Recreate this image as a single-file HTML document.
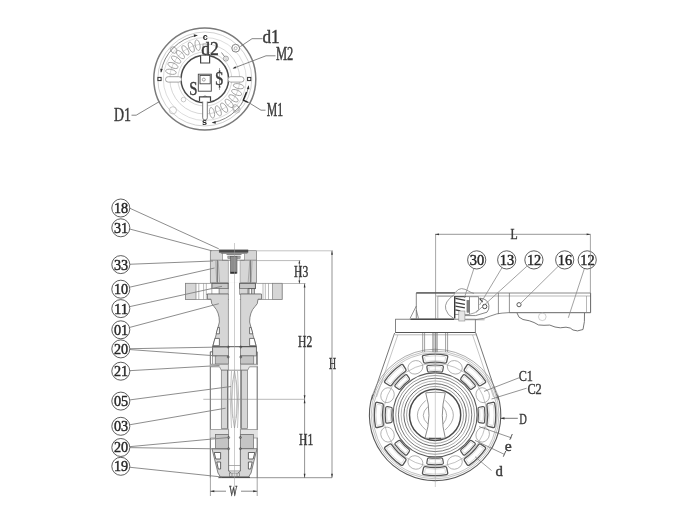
<!DOCTYPE html>
<html><head><meta charset="utf-8"><title>Valve drawing</title>
<style>
html,body{margin:0;padding:0;background:#fff;}
body{width:690px;height:518px;overflow:hidden;}
svg{display:block;font-family:"Liberation Serif",serif;filter:blur(0.55px);}
</style></head><body>
<svg width="690" height="518" viewBox="0 0 690 518">
<rect width="690" height="518" fill="#fff"/>
<circle cx="204.8" cy="79" r="51" stroke="#7a7a7a" stroke-width="1.5" fill="none"/>
<circle cx="204.8" cy="79" r="47" stroke="#bdbdbd" stroke-width="0.7" fill="none"/>
<circle cx="204.8" cy="79" r="41.5" stroke="#cfcfcf" stroke-width="0.7" fill="none"/>
<circle cx="204.8" cy="79" r="35" stroke="#c4c4c4" stroke-width="0.7" fill="none"/>
<circle cx="204.8" cy="79" r="27" stroke="#c8c8c8" stroke-width="0.7" fill="none"/>
<circle cx="204.8" cy="79" r="23.8" stroke="#4a4a4a" stroke-width="1.5" fill="none"/>
<ellipse cx="197.61" cy="45.16" rx="5.4" ry="2.4" transform="rotate(-102 197.61 45.16)" fill="none" stroke="#9c9c9c" stroke-width="0.85"/>
<ellipse cx="191.28" cy="47.15" rx="5.4" ry="2.4" transform="rotate(-113 191.28 47.15)" fill="none" stroke="#9c9c9c" stroke-width="0.85"/>
<ellipse cx="185.45" cy="50.32" rx="5.4" ry="2.4" transform="rotate(-124 185.45 50.32)" fill="none" stroke="#9c9c9c" stroke-width="0.85"/>
<ellipse cx="180.33" cy="54.53" rx="5.4" ry="2.4" transform="rotate(-135 180.33 54.53)" fill="none" stroke="#9c9c9c" stroke-width="0.85"/>
<ellipse cx="176.12" cy="59.65" rx="5.4" ry="2.4" transform="rotate(-146 176.12 59.65)" fill="none" stroke="#9c9c9c" stroke-width="0.85"/>
<ellipse cx="172.95" cy="65.48" rx="5.4" ry="2.4" transform="rotate(-157 172.95 65.48)" fill="none" stroke="#9c9c9c" stroke-width="0.85"/>
<ellipse cx="170.96" cy="71.81" rx="5.4" ry="2.4" transform="rotate(-168 170.96 71.81)" fill="none" stroke="#9c9c9c" stroke-width="0.85"/>
<ellipse cx="211.99" cy="112.84" rx="5.4" ry="2.4" transform="rotate(78 211.99 112.84)" fill="none" stroke="#9c9c9c" stroke-width="0.85"/>
<ellipse cx="218.32" cy="110.85" rx="5.4" ry="2.4" transform="rotate(67 218.32 110.85)" fill="none" stroke="#9c9c9c" stroke-width="0.85"/>
<ellipse cx="224.15" cy="107.68" rx="5.4" ry="2.4" transform="rotate(56 224.15 107.68)" fill="none" stroke="#9c9c9c" stroke-width="0.85"/>
<ellipse cx="229.27" cy="103.47" rx="5.4" ry="2.4" transform="rotate(45 229.27 103.47)" fill="none" stroke="#9c9c9c" stroke-width="0.85"/>
<ellipse cx="233.48" cy="98.35" rx="5.4" ry="2.4" transform="rotate(34 233.48 98.35)" fill="none" stroke="#9c9c9c" stroke-width="0.85"/>
<ellipse cx="236.65" cy="92.52" rx="5.4" ry="2.4" transform="rotate(23 236.65 92.52)" fill="none" stroke="#9c9c9c" stroke-width="0.85"/>
<ellipse cx="238.64" cy="86.19" rx="5.4" ry="2.4" transform="rotate(12 238.64 86.19)" fill="none" stroke="#9c9c9c" stroke-width="0.85"/>
<ellipse cx="173.72" cy="50.02" rx="3.6" ry="2.8" transform="rotate(-137 173.72 50.02)" fill="none" stroke="#9a9a9a" stroke-width="0.8"/>
<ellipse cx="235.88" cy="107.98" rx="3.6" ry="2.8" transform="rotate(43 235.88 107.98)" fill="none" stroke="#9a9a9a" stroke-width="0.8"/>
<path d="M161.05 72.07 A44.3 44.3 0 0 1 197.11 35.37" stroke="#666" stroke-width="0.8" fill="none" />
<path d="M248.55 85.93 A44.3 44.3 0 0 1 212.49 122.63" stroke="#666" stroke-width="0.8" fill="none" />
<polygon points="197.87,35.25 194,36.89 193.77,34.3" fill="#333"/>
<polygon points="160.93,72.83 160.2,68.69 162.78,69.05" fill="#333"/>
<polygon points="211.73,122.75 215.6,121.11 215.83,123.7" fill="#333"/>
<polygon points="248.67,85.17 249.4,89.31 246.82,88.95" fill="#333"/>
<rect x="228" y="76.7" width="16" height="5.4" fill="#fff" stroke="#8e8e8e" stroke-width="0.8" rx="2.7"/>
<rect x="165.5" y="76.7" width="16" height="5.4" fill="#fff" stroke="#8e8e8e" stroke-width="0.8" rx="2.7"/>
<rect x="202.7" y="96" width="4.6" height="24" fill="#fff" stroke="#6a6a6a" stroke-width="0.9" rx="2.2"/>
<path d="M200.6 55.6 L200.6 63 L209.6 63 L209.6 55.6" stroke="#444" stroke-width="1.2" fill="#fff" />
<rect x="203" y="44" width="4" height="11" fill="#fff" stroke="#8a8a8a" stroke-width="0.7" rx="0"/>
<path d="M199.5 101.5 L199.5 96.8 L210.5 96.8 L210.5 101.5" stroke="#444" stroke-width="1.2" fill="#fff" />
<rect x="157.9" y="77.4" width="3.2" height="3.2" fill="none" stroke="#333" stroke-width="1.0" rx="0"/>
<rect x="247.6" y="77.4" width="3.2" height="3.2" fill="none" stroke="#333" stroke-width="1.0" rx="0"/>
<rect x="198.3" y="74.2" width="13" height="17" fill="none" stroke="#444" stroke-width="0.9" rx="0"/>
<rect x="200" y="75.4" width="10.2" height="8.4" fill="none" stroke="#444" stroke-width="0.9" rx="0"/>
<circle cx="203.8" cy="79.6" r="1.5" stroke="#666" stroke-width="0.6" fill="none"/>
<line x1="219.5" y1="68" x2="219.5" y2="90" stroke="#666" stroke-width="0.6" />
<polygon points="219.6,73.5 218.6,70.5 220.6,70.5" fill="#333"/>
<polygon points="219.6,84.5 220.6,87.5 218.6,87.5" fill="#333"/>
<circle cx="235.7" cy="48.2" r="3.9" stroke="#777" stroke-width="0.9" fill="none"/>
<circle cx="235.7" cy="48.2" r="1.5" stroke="#999" stroke-width="0.7" fill="none"/>
<circle cx="225.9" cy="58.6" r="2.5" stroke="#888" stroke-width="0.8" fill="none"/>
<circle cx="225.9" cy="58.6" r="1" stroke="#aaa" stroke-width="0.6" fill="none"/>
<circle cx="236.6" cy="109.5" r="3.6" stroke="#bbb" stroke-width="0.8" fill="none"/>
<circle cx="172.9" cy="110.3" r="3.6" stroke="#bbb" stroke-width="0.8" fill="none"/>
<circle cx="183.5" cy="99.6" r="2.3" stroke="#bbb" stroke-width="0.8" fill="none"/>
<path d="M246.5 92 L243.2 100.2 L248 102.4" stroke="#222" stroke-width="1.3" fill="none" />
<text x="205.2" y="39.6" font-size="9" text-anchor="middle" fill="#222" font-weight="bold" font-family="Liberation Sans">c</text>
<text x="204.6" y="125" font-size="9" text-anchor="middle" fill="#222" font-weight="bold" font-family="Liberation Sans">s</text>
<path d="M262.5 38.7 L252 38.7 L240.3 46.6" stroke="#777" stroke-width="0.9" fill="none" />
<path d="M275.5 55.8 L266 55.8 L233.5 68.2" stroke="#777" stroke-width="0.9" fill="none" />
<polygon points="232.6,68.5 235.47,66.22 236.26,68.27" fill="#333"/>
<path d="M265.5 110.2 L261 110.2 L247 101.5" stroke="#777" stroke-width="0.9" fill="none" />
<path d="M221.5 52.5 L224.3 56.3" stroke="#555" stroke-width="0.7" fill="none" />
<path d="M131.5 115.2 L136.2 115.2 L159.5 101.5" stroke="#777" stroke-width="0.9" fill="none" />
<text x="262.5" y="42.8" font-size="18" textLength="17.2" lengthAdjust="spacingAndGlyphs" fill="#3a3a3a"  stroke="#3a3a3a" stroke-width="0.4">d1</text>
<text x="275.9" y="60" font-size="18" textLength="17.4" lengthAdjust="spacingAndGlyphs" fill="#3a3a3a"  stroke="#3a3a3a" stroke-width="0.4">M2</text>
<text x="266.7" y="116.3" font-size="18" textLength="16.4" lengthAdjust="spacingAndGlyphs" fill="#3a3a3a"  stroke="#3a3a3a" stroke-width="0.4">M1</text>
<text x="113.9" y="121" font-size="18" textLength="17" lengthAdjust="spacingAndGlyphs" fill="#3a3a3a"  stroke="#3a3a3a" stroke-width="0.4">D1</text>
<text x="201.2" y="54.6" font-size="18" textLength="17.6" lengthAdjust="spacingAndGlyphs" fill="#3a3a3a"  stroke="#3a3a3a" stroke-width="0.4">d2</text>
<text x="215" y="85.2" font-size="18" textLength="8.6" lengthAdjust="spacingAndGlyphs" fill="#3a3a3a"  stroke="#3a3a3a" stroke-width="0.4">S</text>
<text x="189.2" y="94.6" font-size="18" textLength="8.2" lengthAdjust="spacingAndGlyphs" fill="#3a3a3a"  stroke="#3a3a3a" stroke-width="0.4">S</text>
<rect x="210.3" y="250.7" width="46.3" height="32.2" fill="#d6d6d6" stroke="#777" stroke-width="0.7" rx="0"/>
<rect x="219.2" y="249.9" width="28.8" height="2.4" fill="#4a4a4a" stroke="#4a4a4a" stroke-width="0.5" rx="0"/>
<line x1="220.8" y1="253.1" x2="247.4" y2="253.1" stroke="#666" stroke-width="0.9" />
<rect x="222.6" y="253.6" width="22" height="6.6" fill="#fff" stroke="#777" stroke-width="0.6" rx="0"/>
<rect x="228.4" y="260.2" width="11.9" height="120" fill="#fff" stroke="none" stroke-width="0" rx="0"/>
<line x1="217.4" y1="260.2" x2="217.4" y2="282.6" stroke="#5a5a5a" stroke-width="0.8" />
<line x1="250.4" y1="260.2" x2="250.4" y2="282.6" stroke="#5a5a5a" stroke-width="0.8" />
<line x1="210.3" y1="260.2" x2="256.6" y2="260.2" stroke="#707070" stroke-width="0.7" />
<path d="M215.8 261 L216.6 282 M218.2 261 L219.6 282 M252 261 L251.2 282 M249.8 261 L248.2 282" stroke="#8a8a8a" stroke-width="0.6" fill="none" />
<line x1="228.4" y1="260.2" x2="228.4" y2="283" stroke="#8a8a8a" stroke-width="0.6" />
<line x1="240.2" y1="260.2" x2="240.2" y2="283" stroke="#8a8a8a" stroke-width="0.6" />
<rect x="227.8" y="256" width="12.4" height="2.6" fill="#a4a4a4" stroke="#777" stroke-width="0.5" rx="0"/>
<rect x="230.4" y="256.6" width="6.6" height="16.6" fill="#8e8e8e" stroke="#5a5a5a" stroke-width="0.6" rx="0"/>
<rect x="230.8" y="272" width="5.8" height="1.4" fill="#333" stroke="#333" stroke-width="0.3" rx="0"/>
<line x1="226.5" y1="254.4" x2="241.5" y2="254.4" stroke="#666" stroke-width="0.9" />
<rect x="185.6" y="283.3" width="96.5" height="16.3" fill="#fff" stroke="#808080" stroke-width="0.7" rx="0"/>
<rect x="185.6" y="283.3" width="10.4" height="16.3" fill="#d6d6d6" stroke="#808080" stroke-width="0.7" rx="0"/>
<rect x="272.5" y="283.3" width="9.6" height="16.3" fill="#d6d6d6" stroke="#808080" stroke-width="0.7" rx="0"/>
<line x1="198.8" y1="283.3" x2="198.8" y2="299.6" stroke="#8a8a8a" stroke-width="0.6" />
<line x1="203.6" y1="283.3" x2="203.6" y2="299.6" stroke="#8a8a8a" stroke-width="0.6" />
<line x1="206.3" y1="283.3" x2="206.3" y2="299.6" stroke="#8a8a8a" stroke-width="0.6" />
<line x1="263" y1="283.3" x2="263" y2="299.6" stroke="#8a8a8a" stroke-width="0.6" />
<line x1="265.3" y1="283.3" x2="265.3" y2="299.6" stroke="#8a8a8a" stroke-width="0.6" />
<line x1="268.5" y1="283.3" x2="268.5" y2="299.6" stroke="#8a8a8a" stroke-width="0.6" />
<rect x="228.9" y="282.8" width="10.9" height="17.4" fill="#fff" stroke="none" stroke-width="0" rx="0"/>
<rect x="211.9" y="283.3" width="16.3" height="5.3" fill="#c8c8c8" stroke="#555" stroke-width="0.9" rx="0"/>
<rect x="239.6" y="283.3" width="15.8" height="5.3" fill="#c8c8c8" stroke="#555" stroke-width="0.9" rx="0"/>
<rect x="219" y="288.6" width="9.2" height="5.6" fill="#d6d6d6" stroke="#777" stroke-width="0.6" rx="0"/>
<rect x="211.9" y="288.6" width="7.1" height="5.6" fill="#fff" stroke="#777" stroke-width="0.6" rx="0"/>
<rect x="239.6" y="288.6" width="8.2" height="5.6" fill="#d6d6d6" stroke="#777" stroke-width="0.6" rx="0"/>
<line x1="248.9" y1="288.6" x2="248.9" y2="294.2" stroke="#4a4a4a" stroke-width="0.9" />
<line x1="251.8" y1="288.6" x2="251.8" y2="294.2" stroke="#4a4a4a" stroke-width="0.9" />
<line x1="254.2" y1="288.6" x2="254.2" y2="294.2" stroke="#4a4a4a" stroke-width="0.9" />
<line x1="206.3" y1="294.3" x2="228.4" y2="294.3" stroke="#5a5a5a" stroke-width="0.8" />
<line x1="240.2" y1="294.3" x2="260.6" y2="294.3" stroke="#5a5a5a" stroke-width="0.8" />
<path d="M207.5 294 L228.4 294 L228.4 346.7 L212.6 346.7 L215.5 337 L219.4 322 Q219.4 312 214 306.5 Q211 304.5 211 299.2 L207.5 299.2 Z" stroke="none" stroke-width="0" fill="#d6d6d6" />
<path d="M228.4 294 L207.5 294 L207.5 299.2 L211 299.2 Q211 304.5 214 306.5 Q219.4 312 219.4 322 L215.5 337 L212.6 346.7" stroke="#6a6a6a" stroke-width="0.8" fill="none" />
<path d="M261.5 294 L240.6 294 L240.6 346.7 L256.4 346.7 L253.5 337 L249.6 322 Q249.6 312 255 306.5 Q258 304.5 258 299.2 L261.5 299.2 Z" stroke="none" stroke-width="0" fill="#d6d6d6" />
<path d="M240.6 294 L261.5 294 L261.5 299.2 L258 299.2 Q258 304.5 255 306.5 Q249.6 312 249.6 322 L253.5 337 L256.4 346.7" stroke="#6a6a6a" stroke-width="0.8" fill="none" />
<line x1="228.4" y1="294" x2="228.4" y2="347" stroke="#777" stroke-width="0.7" />
<line x1="240.6" y1="294" x2="240.6" y2="347" stroke="#777" stroke-width="0.7" />
<path d="M219.4 327.4 L217.9 327.4 L216.2 333.8 L219.4 333.8 Z M219.4 338.4 L214.9 338.4 L213 345.7 L219.4 345.7 Z" stroke="#555" stroke-width="0.8" fill="#fff" />
<path d="M249.6 327.4 L251.1 327.4 L252.8 333.8 L249.6 333.8 Z M249.6 338.4 L254.1 338.4 L256 345.7 L249.6 345.7 Z" stroke="#555" stroke-width="0.8" fill="#fff" />
<rect x="212.6" y="346.7" width="15.8" height="9.2" fill="#d6d6d6" stroke="#666" stroke-width="0.7" rx="0"/>
<rect x="240.6" y="346.7" width="15.8" height="9.2" fill="#d6d6d6" stroke="#666" stroke-width="0.7" rx="0"/>
<rect x="215.2" y="355.9" width="13.2" height="8.2" fill="#c4c4c4" stroke="#6a6a6a" stroke-width="0.7" rx="0"/>
<rect x="240.6" y="355.9" width="13.2" height="8.2" fill="#c4c4c4" stroke="#6a6a6a" stroke-width="0.7" rx="0"/>
<line x1="212.6" y1="346.7" x2="256.4" y2="346.7" stroke="#444" stroke-width="0.9" />
<path d="M212.6 351.8 L210.3 351.8 L210.3 477.7 M256.4 351.8 L257.2 351.8 L257.2 477.7" stroke="#555" stroke-width="0.9" fill="none" />
<path d="M212.6 346.7 L212.6 364.3 M256.4 346.7 L256.4 364.3" stroke="#666" stroke-width="0.7" fill="none" />
<path d="M210.3 364.3 L228.4 364.3 L228.4 370.2 L221.3 370.2 L219.5 366.8 L210.3 366.8" stroke="#777" stroke-width="0.7" fill="#e2e2e2" />
<path d="M258 364.3 L240.6 364.3 L240.6 370.2 L247.7 370.2 L249.5 366.8 L258 366.8" stroke="#777" stroke-width="0.7" fill="#e2e2e2" />
<line x1="228.4" y1="370.2" x2="240.6" y2="370.2" stroke="#666" stroke-width="0.7" />
<circle cx="228.2" cy="347" r="1" stroke="#444" stroke-width="0.7" fill="none"/>
<circle cx="240.8" cy="347" r="1" stroke="#444" stroke-width="0.7" fill="none"/>
<circle cx="228.2" cy="357" r="1" stroke="#444" stroke-width="0.7" fill="none"/>
<circle cx="240.8" cy="357" r="1" stroke="#444" stroke-width="0.7" fill="none"/>
<rect x="221.3" y="370.2" width="6.5" height="58.3" fill="#d6d6d6" stroke="#777" stroke-width="0.7" rx="0"/>
<rect x="241" y="370.2" width="6.5" height="58.3" fill="#d6d6d6" stroke="#777" stroke-width="0.7" rx="0"/>
<line x1="227.8" y1="370.2" x2="227.8" y2="428.5" stroke="#5a5a5a" stroke-width="0.9" />
<line x1="241" y1="370.2" x2="241" y2="428.5" stroke="#5a5a5a" stroke-width="0.9" />
<path d="M234.5 371 Q228.5 399 234.5 428 Q240.5 399 234.5 371" stroke="#888" stroke-width="0.6" fill="none" />
<path d="M231.5 371 Q229 399 231.5 428 M237.5 371 Q240 399 237.5 428" stroke="#999" stroke-width="0.6" fill="none" />
<path d="M233 380 Q231.5 399 233 418 M236 380 Q237.5 399 236 418" stroke="#aaa" stroke-width="0.5" fill="none" />
<line x1="203.3" y1="399.3" x2="304.7" y2="399.3" stroke="#8a8a8a" stroke-width="0.6" />
<path d="M210.3 429.5 L228.6 429.5 L228.6 434.5 L215.5 434.5 L215.5 438 L210.3 438" stroke="#888" stroke-width="0.7" fill="#e2e2e2" />
<path d="M258 429.5 L240.4 429.5 L240.4 434.5 L252 434.5 L252 438 L258 438" stroke="#888" stroke-width="0.7" fill="#e2e2e2" />
<rect x="228.6" y="428.5" width="11.8" height="44" fill="#fff" stroke="none" stroke-width="0" rx="0"/>
<rect x="215.5" y="434.5" width="13.1" height="14.2" fill="#c4c4c4" stroke="#6a6a6a" stroke-width="0.7" rx="0"/>
<rect x="240.4" y="434.5" width="13.1" height="14.2" fill="#c4c4c4" stroke="#6a6a6a" stroke-width="0.7" rx="0"/>
<path d="M212 448.7 L228.6 448.7 L228.6 471 L231 473 L231 477 L220.5 477 L218 473 Z" stroke="#666" stroke-width="0.8" fill="#d6d6d6" />
<path d="M257 448.7 L240.4 448.7 L240.4 471 L238 473 L238 477 L248.5 477 L251 473 Z" stroke="#666" stroke-width="0.8" fill="#d6d6d6" />
<path d="M214.2 452.5 L220.6 452.5 L220.6 459 L215.8 459 Z M216.8 462 L220.6 462 L220.6 469 L218.3 469 Z" stroke="#444" stroke-width="0.8" fill="#fff" />
<path d="M254.8 452.5 L248.4 452.5 L248.4 459 L253.2 459 Z M252.2 462 L248.4 462 L248.4 469 L250.7 469 Z" stroke="#444" stroke-width="0.8" fill="#fff" />
<line x1="228.6" y1="428.5" x2="228.6" y2="471" stroke="#777" stroke-width="0.7" />
<line x1="240.4" y1="428.5" x2="240.4" y2="471" stroke="#777" stroke-width="0.7" />
<circle cx="228.6" cy="437.5" r="1" stroke="#444" stroke-width="0.7" fill="none"/>
<circle cx="240.4" cy="437.5" r="1" stroke="#444" stroke-width="0.7" fill="none"/>
<circle cx="228.6" cy="448.7" r="1" stroke="#444" stroke-width="0.7" fill="none"/>
<circle cx="240.4" cy="448.7" r="1" stroke="#444" stroke-width="0.7" fill="none"/>
<line x1="228.6" y1="465.5" x2="240.4" y2="465.5" stroke="#777" stroke-width="0.6" />
<line x1="228.6" y1="471" x2="240.4" y2="471" stroke="#666" stroke-width="0.7" />
<rect x="229.5" y="473" width="10" height="3.5" fill="#ddd" stroke="#666" stroke-width="0.6" rx="0"/>
<line x1="232" y1="473" x2="232" y2="476.5" stroke="#666" stroke-width="0.6" />
<line x1="237" y1="473" x2="237" y2="476.5" stroke="#666" stroke-width="0.6" />
<line x1="218" y1="477.7" x2="332" y2="477.7" stroke="#666" stroke-width="0.7" />
<line x1="219" y1="477.3" x2="250" y2="477.3" stroke="#444" stroke-width="1.1" />
<line x1="234.5" y1="243" x2="234.5" y2="496" stroke="#9a9a9a" stroke-width="0.5" />
<line x1="210.4" y1="477.7" x2="210.4" y2="496" stroke="#666" stroke-width="0.6" />
<line x1="257.2" y1="477.7" x2="257.2" y2="496" stroke="#666" stroke-width="0.6" />
<line x1="210.3" y1="491.2" x2="226" y2="491.2" stroke="#555" stroke-width="0.7" />
<line x1="241" y1="491.2" x2="257.2" y2="491.2" stroke="#555" stroke-width="0.7" />
<polygon points="210.3,491.2 214.3,490.2 214.3,492.2" fill="#333"/>
<polygon points="257.2,491.2 253.2,492.2 253.2,490.2" fill="#333"/>
<text x="229.3" y="496" font-size="15" textLength="8" lengthAdjust="spacingAndGlyphs" fill="#3a3a3a"  stroke="#3a3a3a" stroke-width="0.4">W</text>
<line x1="256.6" y1="250.8" x2="333" y2="250.8" stroke="#9a9a9a" stroke-width="0.6" />
<line x1="256.6" y1="260.6" x2="300.5" y2="260.6" stroke="#8a8a8a" stroke-width="0.6" />
<line x1="282.3" y1="283.5" x2="305.5" y2="283.5" stroke="#8a8a8a" stroke-width="0.6" />
<line x1="299.4" y1="260.6" x2="299.4" y2="283.5" stroke="#666" stroke-width="0.7" />
<line x1="304.6" y1="283.5" x2="304.6" y2="477.7" stroke="#666" stroke-width="0.7" />
<line x1="332" y1="250.8" x2="332" y2="477.7" stroke="#666" stroke-width="0.7" />
<polygon points="332,250.8 332.9,254.8 331.1,254.8" fill="#333"/>
<polygon points="332,477.7 331.1,473.7 332.9,473.7" fill="#333"/>
<polygon points="304.6,283.5 305.5,287.5 303.7,287.5" fill="#333"/>
<polygon points="304.6,477.7 303.7,473.7 305.5,473.7" fill="#333"/>
<polygon points="304.6,399.3 303.7,395.3 305.5,395.3" fill="#333"/>
<polygon points="304.6,399.3 305.5,403.3 303.7,403.3" fill="#333"/>
<polygon points="299.4,260.6 300.3,263.6 298.5,263.6" fill="#333"/>
<polygon points="299.4,283.5 298.5,280.5 300.3,280.5" fill="#333"/>
<text x="294.1" y="277.4" font-size="16" textLength="14.2" lengthAdjust="spacingAndGlyphs" fill="#3a3a3a"  stroke="#3a3a3a" stroke-width="0.4">H3</text>
<text x="298" y="347" font-size="16" textLength="14.2" lengthAdjust="spacingAndGlyphs" fill="#3a3a3a"  stroke="#3a3a3a" stroke-width="0.4">H2</text>
<text x="299" y="445.1" font-size="16" textLength="14.2" lengthAdjust="spacingAndGlyphs" fill="#3a3a3a"  stroke="#3a3a3a" stroke-width="0.4">H1</text>
<text x="329.05" y="368.6" font-size="16" textLength="7.1" lengthAdjust="spacingAndGlyphs" fill="#3a3a3a"  stroke="#3a3a3a" stroke-width="0.4">H</text>
<line x1="129.7" y1="208.2" x2="218.8" y2="248.8" stroke="#808080" stroke-width="0.9" />
<circle cx="120.8" cy="208" r="9" stroke="#4c4c4c" stroke-width="0.9" fill="#fff"/>
<text x="113.9" y="212.9" font-size="15.2" textLength="14.2" lengthAdjust="spacingAndGlyphs" fill="#262626" stroke="#262626" stroke-width="0.45">18</text>
<line x1="129.7" y1="229" x2="211.8" y2="250.8" stroke="#808080" stroke-width="0.9" />
<circle cx="120.8" cy="227.8" r="9" stroke="#4c4c4c" stroke-width="0.9" fill="#fff"/>
<text x="113.9" y="232.7" font-size="15.2" textLength="14.2" lengthAdjust="spacingAndGlyphs" fill="#262626" stroke="#262626" stroke-width="0.45">31</text>
<line x1="129.79" y1="264.25" x2="213" y2="261" stroke="#808080" stroke-width="0.9" />
<circle cx="120.8" cy="264.6" r="9" stroke="#4c4c4c" stroke-width="0.9" fill="#fff"/>
<text x="113.9" y="269.5" font-size="15.2" textLength="14.2" lengthAdjust="spacingAndGlyphs" fill="#262626" stroke="#262626" stroke-width="0.45">33</text>
<line x1="129.58" y1="287.21" x2="214.5" y2="268" stroke="#808080" stroke-width="0.9" />
<circle cx="120.8" cy="289.2" r="9" stroke="#4c4c4c" stroke-width="0.9" fill="#fff"/>
<text x="113.9" y="294.1" font-size="15.2" textLength="14.2" lengthAdjust="spacingAndGlyphs" fill="#262626" stroke="#262626" stroke-width="0.45">10</text>
<line x1="129.59" y1="306.66" x2="222" y2="286.3" stroke="#808080" stroke-width="0.9" />
<circle cx="120.8" cy="308.6" r="9" stroke="#4c4c4c" stroke-width="0.9" fill="#fff"/>
<text x="113.9" y="313.5" font-size="15.2" textLength="14.2" lengthAdjust="spacingAndGlyphs" fill="#262626" stroke="#262626" stroke-width="0.45">11</text>
<line x1="129.5" y1="327.48" x2="218.8" y2="303.7" stroke="#808080" stroke-width="0.9" />
<circle cx="120.8" cy="329.8" r="9" stroke="#4c4c4c" stroke-width="0.9" fill="#fff"/>
<text x="113.9" y="334.7" font-size="15.2" textLength="14.2" lengthAdjust="spacingAndGlyphs" fill="#262626" stroke="#262626" stroke-width="0.45">01</text>
<line x1="129.8" y1="348.73" x2="228" y2="346.9" stroke="#808080" stroke-width="0.9" />
<line x1="129.78" y1="349.56" x2="216.7" y2="355.9" stroke="#808080" stroke-width="0.9" />
<circle cx="120.8" cy="348.9" r="9" stroke="#4c4c4c" stroke-width="0.9" fill="#fff"/>
<text x="113.9" y="353.8" font-size="15.2" textLength="14.2" lengthAdjust="spacingAndGlyphs" fill="#262626" stroke="#262626" stroke-width="0.45">20</text>
<line x1="129.79" y1="370.68" x2="219.5" y2="365.5" stroke="#808080" stroke-width="0.9" />
<circle cx="120.8" cy="371.2" r="9" stroke="#4c4c4c" stroke-width="0.9" fill="#fff"/>
<text x="113.9" y="376.1" font-size="15.2" textLength="14.2" lengthAdjust="spacingAndGlyphs" fill="#262626" stroke="#262626" stroke-width="0.45">21</text>
<line x1="129.72" y1="399.92" x2="231" y2="386.5" stroke="#808080" stroke-width="0.9" />
<circle cx="120.8" cy="401.1" r="9" stroke="#4c4c4c" stroke-width="0.9" fill="#fff"/>
<text x="113.9" y="406" font-size="15.2" textLength="14.2" lengthAdjust="spacingAndGlyphs" fill="#262626" stroke="#262626" stroke-width="0.45">05</text>
<line x1="129.67" y1="424.77" x2="225.6" y2="408.2" stroke="#808080" stroke-width="0.9" />
<circle cx="120.8" cy="426.3" r="9" stroke="#4c4c4c" stroke-width="0.9" fill="#fff"/>
<text x="113.9" y="431.2" font-size="15.2" textLength="14.2" lengthAdjust="spacingAndGlyphs" fill="#262626" stroke="#262626" stroke-width="0.45">03</text>
<line x1="129.76" y1="446.67" x2="228.6" y2="437.5" stroke="#808080" stroke-width="0.9" />
<line x1="129.8" y1="447.63" x2="228.6" y2="449" stroke="#808080" stroke-width="0.9" />
<circle cx="120.8" cy="447.5" r="9" stroke="#4c4c4c" stroke-width="0.9" fill="#fff"/>
<text x="113.9" y="452.4" font-size="15.2" textLength="14.2" lengthAdjust="spacingAndGlyphs" fill="#262626" stroke="#262626" stroke-width="0.45">20</text>
<line x1="129.75" y1="467.25" x2="222" y2="477" stroke="#808080" stroke-width="0.9" />
<circle cx="120.8" cy="466.3" r="9" stroke="#4c4c4c" stroke-width="0.9" fill="#fff"/>
<text x="113.9" y="471.2" font-size="15.2" textLength="14.2" lengthAdjust="spacingAndGlyphs" fill="#262626" stroke="#262626" stroke-width="0.45">19</text>
<line x1="435.6" y1="234.5" x2="435.6" y2="333" stroke="#6a6a6a" stroke-width="0.6" />
<line x1="435" y1="234.3" x2="590.6" y2="234.3" stroke="#6a6a6a" stroke-width="0.7" />
<polygon points="435,234.3 439,233.4 439,235.2" fill="#333"/>
<polygon points="590.6,234.3 586.6,235.2 586.6,233.4" fill="#333"/>
<text x="510.4" y="238.5" font-size="15" textLength="7.2" lengthAdjust="spacingAndGlyphs" fill="#3a3a3a"  stroke="#3a3a3a" stroke-width="0.4">L</text>
<path d="M394.6 333 L371.6 400 M475.8 333 L498.4 400" stroke="#666" stroke-width="0.9" fill="none" />
<path d="M397.8 335 L376.5 397 M472.6 335 L493.5 397" stroke="#a0a0a0" stroke-width="0.6" fill="none" />
<path d="M497.58 394.6 A65.7 65.7 0 1 1 372.62 394.6" stroke="#5a5a5a" stroke-width="1.1" fill="none" />
<path d="M372.62 394.6 A65.7 65.7 0 0 1 497.58 394.6" stroke="#8a8a8a" stroke-width="0.7" fill="none" />
<circle cx="435.1" cy="414.9" r="63.9" stroke="#999" stroke-width="0.6" fill="none"/>
<circle cx="435.1" cy="414.9" r="62.2" stroke="#999" stroke-width="0.6" fill="none"/>
<circle cx="435.1" cy="414.9" r="51.5" stroke="#999" stroke-width="0.6" fill="none"/>
<ellipse cx="482.68" cy="434.61" rx="7.6" ry="6.6" transform="rotate(112.5 482.68 434.61)" fill="none" stroke="#9a9a9a" stroke-width="0.7"/>
<ellipse cx="454.81" cy="462.48" rx="7.6" ry="6.6" transform="rotate(157.5 454.81 462.48)" fill="none" stroke="#9a9a9a" stroke-width="0.7"/>
<ellipse cx="415.39" cy="462.48" rx="7.6" ry="6.6" transform="rotate(202.5 415.39 462.48)" fill="none" stroke="#9a9a9a" stroke-width="0.7"/>
<ellipse cx="387.52" cy="434.61" rx="7.6" ry="6.6" transform="rotate(247.5 387.52 434.61)" fill="none" stroke="#9a9a9a" stroke-width="0.7"/>
<ellipse cx="387.52" cy="395.19" rx="7.6" ry="6.6" transform="rotate(292.5 387.52 395.19)" fill="none" stroke="#9a9a9a" stroke-width="0.7"/>
<ellipse cx="415.39" cy="367.32" rx="7.6" ry="6.6" transform="rotate(337.5 415.39 367.32)" fill="none" stroke="#9a9a9a" stroke-width="0.7"/>
<ellipse cx="454.81" cy="367.32" rx="7.6" ry="6.6" transform="rotate(382.5 454.81 367.32)" fill="none" stroke="#9a9a9a" stroke-width="0.7"/>
<ellipse cx="482.68" cy="395.19" rx="7.6" ry="6.6" transform="rotate(427.5 482.68 395.19)" fill="none" stroke="#9a9a9a" stroke-width="0.7"/>
<path d="M494.73 403.54 A60.7 60.7 0 0 1 494.73 426.26 Q494.41 427.83 492.84 427.49 L488.15 426.47 Q486.59 426.13 486.91 424.56 A52.7 52.7 0 0 0 486.91 405.24 Q486.59 403.67 488.15 403.33 L492.84 402.31 Q494.41 401.97 494.73 403.54 Z" fill="#fff" stroke="#555" stroke-width="1.3" stroke-linejoin="round"/>
<path d="M493.39 405.12 A59.1 59.1 0 0 1 493.39 424.68 Q493.25 425.47 492.46 425.32 L489.31 424.75 Q488.52 424.61 488.66 423.82 A54.3 54.3 0 0 0 488.66 405.98 Q488.52 405.19 489.31 405.05 L492.46 404.48 Q493.25 404.33 493.39 405.12 Z" fill="none" stroke="#b4b4b4" stroke-width="0.5" stroke-linejoin="round"/>
<path d="M484.52 407.99 A49.9 49.9 0 0 1 484.52 421.81 Q484.27 423.39 482.7 423.12 L479.34 422.54 Q477.77 422.27 478.01 420.69 A43.3 43.3 0 0 0 478.01 409.11 Q477.77 407.53 479.34 407.26 L482.7 406.68 Q484.27 406.41 484.52 407.99 Z" fill="#fff" stroke="#555" stroke-width="1.2" stroke-linejoin="round"/>
<path d="M483.17 409.29 A48.4 48.4 0 0 1 483.17 420.51 Q483.07 421.3 482.28 421.2 L480.3 420.93 Q479.51 420.83 479.61 420.03 A44.8 44.8 0 0 0 479.61 409.77 Q479.51 408.97 480.3 408.87 L482.28 408.6 Q483.07 408.5 483.17 409.29 Z" fill="none" stroke="#b4b4b4" stroke-width="0.5" stroke-linejoin="round"/>
<path d="M485.3 449.03 A60.7 60.7 0 0 1 469.23 465.1 Q467.89 465.98 467.03 464.63 L464.44 460.59 Q463.57 459.25 464.9 458.36 A52.7 52.7 0 0 0 478.56 444.7 Q479.45 443.37 480.79 444.24 L484.83 446.83 Q486.18 447.69 485.3 449.03 Z" fill="#fff" stroke="#555" stroke-width="1.3" stroke-linejoin="round"/>
<path d="M483.23 449.2 A59.1 59.1 0 0 1 469.4 463.03 Q468.74 463.49 468.29 462.83 L466.47 460.2 Q466.01 459.54 466.67 459.08 A54.3 54.3 0 0 0 479.28 446.47 Q479.74 445.81 480.4 446.27 L483.03 448.09 Q483.69 448.54 483.23 449.2 Z" fill="none" stroke="#b4b4b4" stroke-width="0.5" stroke-linejoin="round"/>
<path d="M474.93 444.96 A49.9 49.9 0 0 1 465.16 454.73 Q463.86 455.68 462.94 454.37 L460.98 451.59 Q460.06 450.28 461.35 449.34 A43.3 43.3 0 0 0 469.54 441.15 Q470.48 439.86 471.79 440.78 L474.57 442.74 Q475.88 443.66 474.93 444.96 Z" fill="#fff" stroke="#555" stroke-width="1.2" stroke-linejoin="round"/>
<path d="M473.06 444.93 A48.4 48.4 0 0 1 465.13 452.86 Q464.5 453.35 464.01 452.71 L462.8 451.13 Q462.31 450.49 462.94 450 A44.8 44.8 0 0 0 470.2 442.74 Q470.69 442.11 471.33 442.6 L472.91 443.81 Q473.55 444.3 473.06 444.93 Z" fill="none" stroke="#b4b4b4" stroke-width="0.5" stroke-linejoin="round"/>
<path d="M446.46 474.53 A60.7 60.7 0 0 1 423.74 474.53 Q422.17 474.21 422.51 472.64 L423.53 467.95 Q423.87 466.39 425.44 466.71 A52.7 52.7 0 0 0 444.76 466.71 Q446.33 466.39 446.67 467.95 L447.69 472.64 Q448.03 474.21 446.46 474.53 Z" fill="#fff" stroke="#555" stroke-width="1.3" stroke-linejoin="round"/>
<path d="M444.88 473.19 A59.1 59.1 0 0 1 425.32 473.19 Q424.53 473.05 424.68 472.26 L425.25 469.11 Q425.39 468.32 426.18 468.46 A54.3 54.3 0 0 0 444.02 468.46 Q444.81 468.32 444.95 469.11 L445.52 472.26 Q445.67 473.05 444.88 473.19 Z" fill="none" stroke="#b4b4b4" stroke-width="0.5" stroke-linejoin="round"/>
<path d="M442.01 464.32 A49.9 49.9 0 0 1 428.19 464.32 Q426.61 464.07 426.88 462.5 L427.46 459.14 Q427.73 457.57 429.31 457.81 A43.3 43.3 0 0 0 440.89 457.81 Q442.47 457.57 442.74 459.14 L443.32 462.5 Q443.59 464.07 442.01 464.32 Z" fill="#fff" stroke="#555" stroke-width="1.2" stroke-linejoin="round"/>
<path d="M440.71 462.97 A48.4 48.4 0 0 1 429.49 462.97 Q428.7 462.87 428.8 462.08 L429.07 460.1 Q429.17 459.31 429.97 459.41 A44.8 44.8 0 0 0 440.23 459.41 Q441.03 459.31 441.13 460.1 L441.4 462.08 Q441.5 462.87 440.71 462.97 Z" fill="none" stroke="#b4b4b4" stroke-width="0.5" stroke-linejoin="round"/>
<path d="M400.97 465.1 A60.7 60.7 0 0 1 384.9 449.03 Q384.02 447.69 385.37 446.83 L389.41 444.24 Q390.75 443.37 391.64 444.7 A52.7 52.7 0 0 0 405.3 458.36 Q406.63 459.25 405.76 460.59 L403.17 464.63 Q402.31 465.98 400.97 465.1 Z" fill="#fff" stroke="#555" stroke-width="1.3" stroke-linejoin="round"/>
<path d="M400.8 463.03 A59.1 59.1 0 0 1 386.97 449.2 Q386.51 448.54 387.17 448.09 L389.8 446.27 Q390.46 445.81 390.92 446.47 A54.3 54.3 0 0 0 403.53 459.08 Q404.19 459.54 403.73 460.2 L401.91 462.83 Q401.46 463.49 400.8 463.03 Z" fill="none" stroke="#b4b4b4" stroke-width="0.5" stroke-linejoin="round"/>
<path d="M405.04 454.73 A49.9 49.9 0 0 1 395.27 444.96 Q394.32 443.66 395.63 442.74 L398.41 440.78 Q399.72 439.86 400.66 441.15 A43.3 43.3 0 0 0 408.85 449.34 Q410.14 450.28 409.22 451.59 L407.26 454.37 Q406.34 455.68 405.04 454.73 Z" fill="#fff" stroke="#555" stroke-width="1.2" stroke-linejoin="round"/>
<path d="M405.07 452.86 A48.4 48.4 0 0 1 397.14 444.93 Q396.65 444.3 397.29 443.81 L398.87 442.6 Q399.51 442.11 400 442.74 A44.8 44.8 0 0 0 407.26 450 Q407.89 450.49 407.4 451.13 L406.19 452.71 Q405.7 453.35 405.07 452.86 Z" fill="none" stroke="#b4b4b4" stroke-width="0.5" stroke-linejoin="round"/>
<path d="M375.47 426.26 A60.7 60.7 0 0 1 375.47 403.54 Q375.79 401.97 377.36 402.31 L382.05 403.33 Q383.61 403.67 383.29 405.24 A52.7 52.7 0 0 0 383.29 424.56 Q383.61 426.13 382.05 426.47 L377.36 427.49 Q375.79 427.83 375.47 426.26 Z" fill="#fff" stroke="#555" stroke-width="1.3" stroke-linejoin="round"/>
<path d="M376.81 424.68 A59.1 59.1 0 0 1 376.81 405.12 Q376.95 404.33 377.74 404.48 L380.89 405.05 Q381.68 405.19 381.54 405.98 A54.3 54.3 0 0 0 381.54 423.82 Q381.68 424.61 380.89 424.75 L377.74 425.32 Q376.95 425.47 376.81 424.68 Z" fill="none" stroke="#b4b4b4" stroke-width="0.5" stroke-linejoin="round"/>
<path d="M385.68 421.81 A49.9 49.9 0 0 1 385.68 407.99 Q385.93 406.41 387.5 406.68 L390.86 407.26 Q392.43 407.53 392.19 409.11 A43.3 43.3 0 0 0 392.19 420.69 Q392.43 422.27 390.86 422.54 L387.5 423.12 Q385.93 423.39 385.68 421.81 Z" fill="#fff" stroke="#555" stroke-width="1.2" stroke-linejoin="round"/>
<path d="M387.03 420.51 A48.4 48.4 0 0 1 387.03 409.29 Q387.13 408.5 387.92 408.6 L389.9 408.87 Q390.69 408.97 390.59 409.77 A44.8 44.8 0 0 0 390.59 420.03 Q390.69 420.83 389.9 420.93 L387.92 421.2 Q387.13 421.3 387.03 420.51 Z" fill="none" stroke="#b4b4b4" stroke-width="0.5" stroke-linejoin="round"/>
<path d="M384.9 380.77 A60.7 60.7 0 0 1 400.97 364.7 Q402.31 363.82 403.17 365.17 L405.76 369.21 Q406.63 370.55 405.3 371.44 A52.7 52.7 0 0 0 391.64 385.1 Q390.75 386.43 389.41 385.56 L385.37 382.97 Q384.02 382.11 384.9 380.77 Z" fill="#fff" stroke="#555" stroke-width="1.3" stroke-linejoin="round"/>
<path d="M386.97 380.6 A59.1 59.1 0 0 1 400.8 366.77 Q401.46 366.31 401.91 366.97 L403.73 369.6 Q404.19 370.26 403.53 370.72 A54.3 54.3 0 0 0 390.92 383.33 Q390.46 383.99 389.8 383.53 L387.17 381.71 Q386.51 381.26 386.97 380.6 Z" fill="none" stroke="#b4b4b4" stroke-width="0.5" stroke-linejoin="round"/>
<path d="M395.27 384.84 A49.9 49.9 0 0 1 405.04 375.07 Q406.34 374.12 407.26 375.43 L409.22 378.21 Q410.14 379.52 408.85 380.46 A43.3 43.3 0 0 0 400.66 388.65 Q399.72 389.94 398.41 389.02 L395.63 387.06 Q394.32 386.14 395.27 384.84 Z" fill="#fff" stroke="#555" stroke-width="1.2" stroke-linejoin="round"/>
<path d="M397.14 384.87 A48.4 48.4 0 0 1 405.07 376.94 Q405.7 376.45 406.19 377.09 L407.4 378.67 Q407.89 379.31 407.26 379.8 A44.8 44.8 0 0 0 400 387.06 Q399.51 387.69 398.87 387.2 L397.29 385.99 Q396.65 385.5 397.14 384.87 Z" fill="none" stroke="#b4b4b4" stroke-width="0.5" stroke-linejoin="round"/>
<path d="M423.74 355.27 A60.7 60.7 0 0 1 446.46 355.27 Q448.03 355.59 447.69 357.16 L446.67 361.85 Q446.33 363.41 444.76 363.09 A52.7 52.7 0 0 0 425.44 363.09 Q423.87 363.41 423.53 361.85 L422.51 357.16 Q422.17 355.59 423.74 355.27 Z" fill="#fff" stroke="#555" stroke-width="1.3" stroke-linejoin="round"/>
<path d="M425.32 356.61 A59.1 59.1 0 0 1 444.88 356.61 Q445.67 356.75 445.52 357.54 L444.95 360.69 Q444.81 361.48 444.02 361.34 A54.3 54.3 0 0 0 426.18 361.34 Q425.39 361.48 425.25 360.69 L424.68 357.54 Q424.53 356.75 425.32 356.61 Z" fill="none" stroke="#b4b4b4" stroke-width="0.5" stroke-linejoin="round"/>
<path d="M428.19 365.48 A49.9 49.9 0 0 1 442.01 365.48 Q443.59 365.73 443.32 367.3 L442.74 370.66 Q442.47 372.23 440.89 371.99 A43.3 43.3 0 0 0 429.31 371.99 Q427.73 372.23 427.46 370.66 L426.88 367.3 Q426.61 365.73 428.19 365.48 Z" fill="#fff" stroke="#555" stroke-width="1.2" stroke-linejoin="round"/>
<path d="M429.49 366.83 A48.4 48.4 0 0 1 440.71 366.83 Q441.5 366.93 441.4 367.72 L441.13 369.7 Q441.03 370.49 440.23 370.39 A44.8 44.8 0 0 0 429.97 370.39 Q429.17 370.49 429.07 369.7 L428.8 367.72 Q428.7 366.93 429.49 366.83 Z" fill="none" stroke="#b4b4b4" stroke-width="0.5" stroke-linejoin="round"/>
<path d="M469.23 364.7 A60.7 60.7 0 0 1 485.3 380.77 Q486.18 382.11 484.83 382.97 L480.79 385.56 Q479.45 386.43 478.56 385.1 A52.7 52.7 0 0 0 464.9 371.44 Q463.57 370.55 464.44 369.21 L467.03 365.17 Q467.89 363.82 469.23 364.7 Z" fill="#fff" stroke="#555" stroke-width="1.3" stroke-linejoin="round"/>
<path d="M469.4 366.77 A59.1 59.1 0 0 1 483.23 380.6 Q483.69 381.26 483.03 381.71 L480.4 383.53 Q479.74 383.99 479.28 383.33 A54.3 54.3 0 0 0 466.67 370.72 Q466.01 370.26 466.47 369.6 L468.29 366.97 Q468.74 366.31 469.4 366.77 Z" fill="none" stroke="#b4b4b4" stroke-width="0.5" stroke-linejoin="round"/>
<path d="M465.16 375.07 A49.9 49.9 0 0 1 474.93 384.84 Q475.88 386.14 474.57 387.06 L471.79 389.02 Q470.48 389.94 469.54 388.65 A43.3 43.3 0 0 0 461.35 380.46 Q460.06 379.52 460.98 378.21 L462.94 375.43 Q463.86 374.12 465.16 375.07 Z" fill="#fff" stroke="#555" stroke-width="1.2" stroke-linejoin="round"/>
<path d="M465.13 376.94 A48.4 48.4 0 0 1 473.06 384.87 Q473.55 385.5 472.91 385.99 L471.33 387.2 Q470.69 387.69 470.2 387.06 A44.8 44.8 0 0 0 462.94 379.8 Q462.31 379.31 462.8 378.67 L464.01 377.09 Q464.5 376.45 465.13 376.94 Z" fill="none" stroke="#b4b4b4" stroke-width="0.5" stroke-linejoin="round"/>
<circle cx="435.1" cy="414.9" r="42" stroke="#5a5a5a" stroke-width="1.1" fill="none"/>
<circle cx="435.1" cy="414.9" r="39.4" stroke="#858585" stroke-width="0.8" fill="none"/>
<circle cx="435.1" cy="414.9" r="36.7" stroke="#6a6a6a" stroke-width="0.9" fill="none"/>
<circle cx="435.1" cy="414.9" r="34" stroke="#929292" stroke-width="0.7" fill="none"/>
<circle cx="435.1" cy="414.9" r="31.2" stroke="#686868" stroke-width="1.0" fill="none"/>
<circle cx="435.1" cy="414.9" r="28.5" stroke="#8a8a8a" stroke-width="0.8" fill="none"/>
<circle cx="435.1" cy="414.9" r="25.6" stroke="#4a4a4a" stroke-width="1.5" fill="#fff"/>
<path d="M425.7 392.8 Q435.3 391.6 445.3 392.8 Q439.3 415.4 445.3 438.1 Q435.3 439.2 425 438.1 Q432.6 415.4 425.7 392.8 Z" stroke="#6e6e6e" stroke-width="0.8" fill="#fff" />
<line x1="429" y1="438.4" x2="441" y2="438.4" stroke="#555" stroke-width="1.3" />
<path d="M425.9 400.3 Q408.9 415.4 425.9 430 M427.9 406.6 Q418.6 415.4 427.9 424" stroke="#8a8a8a" stroke-width="0.7" fill="none" />
<path d="M445.1 400.3 Q461.6 415.4 445.1 430 M443.1 406.6 Q450.2 415.4 443.1 424" stroke="#8a8a8a" stroke-width="0.7" fill="none" />
<line x1="435.3" y1="352" x2="435.3" y2="487" stroke="#a0a0a0" stroke-width="0.5" />
<line x1="422.7" y1="333" x2="422.7" y2="352" stroke="#777" stroke-width="0.7" />
<line x1="424.6" y1="333" x2="424.6" y2="352" stroke="#777" stroke-width="0.7" />
<line x1="433" y1="333" x2="433" y2="352" stroke="#555" stroke-width="0.8" />
<line x1="437" y1="333" x2="437" y2="352" stroke="#555" stroke-width="0.8" />
<line x1="445.6" y1="333" x2="445.6" y2="352" stroke="#777" stroke-width="0.7" />
<line x1="447.6" y1="333" x2="447.6" y2="352" stroke="#777" stroke-width="0.7" />
<line x1="435.2" y1="333" x2="435.2" y2="352" stroke="#555" stroke-width="0.9" />
<rect x="395.6" y="319.2" width="79.7" height="13.4" fill="#fff" stroke="#666" stroke-width="0.8" rx="0"/>
<line x1="410.5" y1="319.2" x2="454" y2="319.2" stroke="#4a4a4a" stroke-width="1.4" />
<line x1="395.6" y1="332.5" x2="475.3" y2="332.5" stroke="#555" stroke-width="1.2" />
<line x1="395" y1="334.8" x2="476" y2="334.8" stroke="#888" stroke-width="0.6" />
<path d="M416.3 318.5 L416.3 293 L590.6 293" stroke="#6a6a6a" stroke-width="0.8" fill="none" />
<line x1="416.3" y1="292.8" x2="455" y2="292.8" stroke="#555" stroke-width="1.3" />
<line x1="436" y1="296" x2="590.6" y2="296" stroke="#888" stroke-width="0.6" />
<path d="M416.3 306 L410 318.5 M416.3 310 L418.5 318.5" stroke="#666" stroke-width="0.7" fill="none" />
<path d="M437.8 318.5 L437.8 296.2 L453 296.2" stroke="#777" stroke-width="0.6" fill="none" />
<path d="M454.5 294.4 Q443.5 302 445.8 309.5 Q447 315 454 318.6" stroke="#808080" stroke-width="0.8" fill="none" />
<path d="M455.2 292.6 Q458 288.6 461.5 288.6 Q465 288.8 468.4 291 Q471 292.8 474 293.4" stroke="#808080" stroke-width="0.8" fill="none" />
<rect x="454.6" y="296.7" width="14.8" height="17.6" fill="#fff" stroke="#666" stroke-width="0.7" rx="0"/>
<rect x="466.9" y="300.2" width="2.5" height="12.2" fill="#808080" stroke="#666" stroke-width="0.4" rx="0"/>
<line x1="454.7" y1="296.2" x2="454.7" y2="318.6" stroke="#3a3a3a" stroke-width="1.4" />
<line x1="454.2" y1="296.7" x2="466" y2="296.7" stroke="#4a4a4a" stroke-width="1.0" />
<line x1="455.4" y1="298.3" x2="465.2" y2="300.3" stroke="#3c3c3c" stroke-width="1.3" />
<line x1="455.4" y1="302.6" x2="464.9" y2="304.3" stroke="#3c3c3c" stroke-width="1.3" />
<line x1="455.4" y1="306.2" x2="464.9" y2="307.8" stroke="#3c3c3c" stroke-width="1.3" />
<line x1="455.4" y1="309.8" x2="460.3" y2="310.9" stroke="#3c3c3c" stroke-width="1.3" />
<rect x="458.8" y="311" width="6.1" height="10" fill="#e6e6e6" stroke="#8a8a8a" stroke-width="0.6" rx="0"/>
<path d="M469.4 296.7 L478.6 296.7 L478.6 309.5" stroke="#707070" stroke-width="0.8" fill="none" />
<path d="M480 298.2 Q487.5 298.6 488.9 305.3 Q489.4 309.5 487 312.2 L475.5 315.6 L465 315.6" stroke="#6a6a6a" stroke-width="0.8" fill="none" />
<path d="M479.6 298.4 L482.6 302.2" stroke="#444" stroke-width="1.2" fill="none" />
<path d="M478.6 309.5 Q476 313.5 469.5 314.3" stroke="#808080" stroke-width="0.7" fill="none" />
<path d="M465.4 319.8 L484.6 319.8" stroke="#8a8a8a" stroke-width="0.7" fill="none" />
<circle cx="484.7" cy="306.5" r="2.2" stroke="#4a4a4a" stroke-width="1.0" fill="#fff"/>
<path d="M509.3 312.7 L590.6 312.7 L590.6 293" stroke="#555" stroke-width="0.9" fill="none" />
<path d="M509.5 312.6 Q501 313 496.8 313.9 Q490 316 483.6 318.5 L475.5 319.5" stroke="#6a6a6a" stroke-width="0.8" fill="none" />
<line x1="498.4" y1="293" x2="498.4" y2="314" stroke="#666" stroke-width="0.7" />
<line x1="509.4" y1="293" x2="509.4" y2="312.7" stroke="#666" stroke-width="0.7" />
<line x1="586.5" y1="296" x2="586.5" y2="312.7" stroke="#888" stroke-width="0.6" />
<circle cx="519" cy="304.7" r="2.1" stroke="#5a5a5a" stroke-width="1.0" fill="#fff"/>
<circle cx="542.3" cy="316.8" r="3.8" stroke="#bbb" stroke-width="0.7" fill="none"/>
<path d="M517 313 Q518 318 523 319.5 Q530 320.5 534 322.5 Q538 326 544 325.3 Q550 324 555 327 Q560 328.5 566 327.2 Q571 327.5 573 330 Q577 332 583 329.5 Q585 322 584.5 313" stroke="#666" stroke-width="0.9" fill="none" />
<line x1="473.91" y1="268.46" x2="464.3" y2="298" stroke="#8a8a8a" stroke-width="0.8" />
<circle cx="476.7" cy="259.9" r="9.1" stroke="#4c4c4c" stroke-width="0.9" fill="#fff"/>
<text x="469.7" y="265" font-size="15.2" textLength="14.4" lengthAdjust="spacingAndGlyphs" fill="#262626" stroke="#262626" stroke-width="0.45">30</text>
<line x1="502.06" y1="267.61" x2="479.6" y2="305" stroke="#8a8a8a" stroke-width="0.8" />
<circle cx="506.7" cy="259.9" r="9.1" stroke="#4c4c4c" stroke-width="0.9" fill="#fff"/>
<text x="499.7" y="265" font-size="15.2" textLength="14.4" lengthAdjust="spacingAndGlyphs" fill="#262626" stroke="#262626" stroke-width="0.45">13</text>
<line x1="527.24" y1="265.95" x2="476" y2="312.5" stroke="#8a8a8a" stroke-width="0.8" />
<circle cx="533.9" cy="259.9" r="9.1" stroke="#4c4c4c" stroke-width="0.9" fill="#fff"/>
<text x="526.9" y="265" font-size="15.2" textLength="14.4" lengthAdjust="spacingAndGlyphs" fill="#262626" stroke="#262626" stroke-width="0.45">12</text>
<line x1="558.29" y1="266.22" x2="520.5" y2="303.5" stroke="#8a8a8a" stroke-width="0.8" />
<circle cx="564.7" cy="259.9" r="9.1" stroke="#4c4c4c" stroke-width="0.9" fill="#fff"/>
<text x="557.7" y="265" font-size="15.2" textLength="14.4" lengthAdjust="spacingAndGlyphs" fill="#262626" stroke="#262626" stroke-width="0.45">16</text>
<line x1="584.41" y1="268.46" x2="568.3" y2="317.8" stroke="#8a8a8a" stroke-width="0.8" />
<circle cx="587.2" cy="259.9" r="9.1" stroke="#4c4c4c" stroke-width="0.9" fill="#fff"/>
<text x="580.2" y="265" font-size="15.2" textLength="14.4" lengthAdjust="spacingAndGlyphs" fill="#262626" stroke="#262626" stroke-width="0.45">12</text>
<line x1="590.4" y1="234.5" x2="590.4" y2="294" stroke="#808080" stroke-width="0.7" />
<line x1="519" y1="377.8" x2="484" y2="391.4" stroke="#666" stroke-width="0.7" />
<line x1="526.6" y1="388.2" x2="491.5" y2="399" stroke="#666" stroke-width="0.7" />
<line x1="517.8" y1="418.3" x2="500.5" y2="418.3" stroke="#555" stroke-width="0.8" />
<polygon points="500.5,418.3 504.5,417.2 504.5,419.4" fill="#333"/>
<line x1="479" y1="426.6" x2="511.6" y2="437.9" stroke="#666" stroke-width="0.7" />
<line x1="509.8" y1="439.8" x2="512.3" y2="434" stroke="#444" stroke-width="0.9" />
<line x1="475" y1="440.4" x2="504" y2="454.2" stroke="#666" stroke-width="0.7" />
<line x1="503.3" y1="456.7" x2="505.8" y2="451" stroke="#444" stroke-width="0.9" />
<line x1="475" y1="456.7" x2="491.5" y2="470.5" stroke="#777" stroke-width="0.7" />
<text x="518.7" y="381.2" font-size="15.5" textLength="14.2" lengthAdjust="spacingAndGlyphs" fill="#3a3a3a"  stroke="#3a3a3a" stroke-width="0.4">C1</text>
<text x="527.4" y="393.6" font-size="15.5" textLength="14.4" lengthAdjust="spacingAndGlyphs" fill="#3a3a3a"  stroke="#3a3a3a" stroke-width="0.4">C2</text>
<text x="519.2" y="423.8" font-size="15.5" textLength="7.6" lengthAdjust="spacingAndGlyphs" fill="#3a3a3a"  stroke="#3a3a3a" stroke-width="0.4">D</text>
<text x="504.8" y="451" font-size="15.5" textLength="7" lengthAdjust="spacingAndGlyphs" fill="#3a3a3a"  stroke="#3a3a3a" stroke-width="0.4">e</text>
<text x="495.5" y="476" font-size="15.5" textLength="7.4" lengthAdjust="spacingAndGlyphs" fill="#3a3a3a"  stroke="#3a3a3a" stroke-width="0.4">d</text>
</svg>
</body></html>
